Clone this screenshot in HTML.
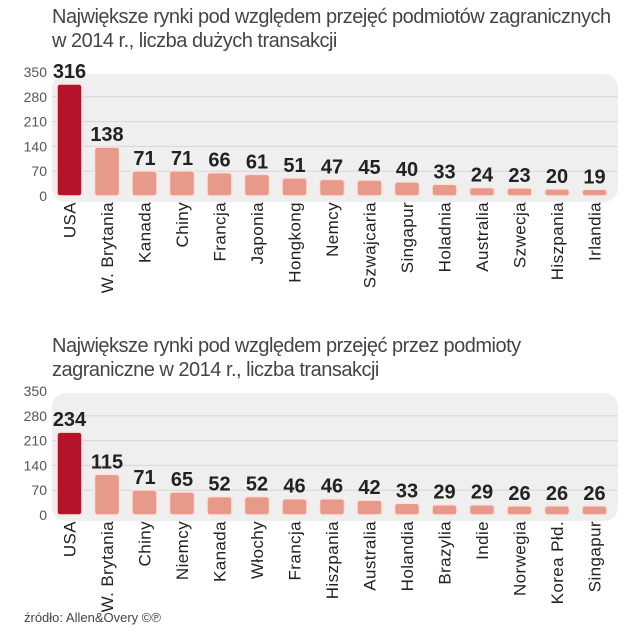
<!DOCTYPE html>
<html><head><meta charset="utf-8"><style>
body{margin:0;background:#fff;width:636px;height:640px;overflow:hidden;font-family:"Liberation Sans",sans-serif}
.t{position:absolute;left:52px;font-size:20px;color:#444;line-height:24px;letter-spacing:-0.5px;white-space:nowrap}
</style></head><body>
<div class="t" style="top:5px">Największe rynki pod względem przejęć podmiotów zagranicznych<br>w 2014 r., liczba dużych transakcji</div>
<div class="t" style="top:334px">Największe rynki pod względem przejęć przez podmioty<br>zagraniczne w 2014 r., liczba transakcji</div>
<svg id="s" width="636" height="640" style="position:absolute;left:0;top:0">
<text x="24" y="622" font-size="13" fill="#444" font-family="Liberation Sans, sans-serif">źródło: Allen&amp;Overy ©℗</text>
</svg>
<script>
const cats1=["USA","W. Brytania","Kanada","Chiny","Francja","Japonia","Hongkong","Nemcy","Szwajcaria","Singapur","Holadnia","Australia","Szwecja","Hiszpania","Irlandia"];
const vals1=[316,138,71,71,66,61,51,47,45,40,33,24,23,20,19];
const cats2=["USA","W. Brytania","Chiny","Niemcy","Kanada","Włochy","Francja","Hiszpania","Australia","Holandia","Brazylia","Indie","Norwegia","Korea Płd.","Singapur"];
const vals2=[234,115,71,65,52,52,46,46,42,33,29,29,26,26,26];
const ticks=[0,70,140,210,280,350];
const NS="http://www.w3.org/2000/svg";
const svg=document.getElementById('s');
function el(t,a,txt){const e=document.createElementNS(NS,t);for(const k in a)e.setAttribute(k,a[k]);if(txt!==undefined)e.textContent=txt;svg.appendChild(e);return e;}
function chart(cats,vals,y0,id){
  const y=v=>y0-v*124/350, x=i=>69.5+i*37.5;
  const p=el('rect',{x:52,y:y0-122,width:566,height:128,rx:14,fill:'#efefef'});
  
  
  ticks.forEach(t=>{
    if(t>0&&t<350){const l=el('line',{x1:52,x2:618,y1:y(t),y2:y(t),stroke:'#d6d6d6','stroke-width':1});
    
    }
    const tx=el('text',{x:47,y:y(t)+5,'text-anchor':'end','font-size':14,fill:'#555','font-family':'Liberation Sans, sans-serif'},t);
    
    
  });
  vals.forEach((v,i)=>{
    const h=Math.max(v*124/350,4);
    const b=el('rect',{x:x(i)-12.5,y:y0-h,width:25,height:h,rx:3,fill:i==0?'#b5122b':'#e89a8a',stroke:'#fbe4df','stroke-width':1.5});
    
    
    const vt=el('text',{x:x(i),y:y0-h-6,'text-anchor':'middle','font-size':20,'font-weight':'bold',fill:'#222','font-family':'Liberation Sans Narrow, Liberation Sans, sans-serif'},v);
    
    
    const ct=el('text',{x:0,y:0,'text-anchor':'end','font-size':17,'letter-spacing':0.4,fill:'#222','font-family':'Liberation Sans, sans-serif',transform:`translate(${x(i)+6},${y0+6}) rotate(-90)`},cats[i]);
    
    
  });
}
chart(cats1,vals1,196,'chart1');
chart(cats2,vals2,515,'chart2');
</script>
</body></html>
